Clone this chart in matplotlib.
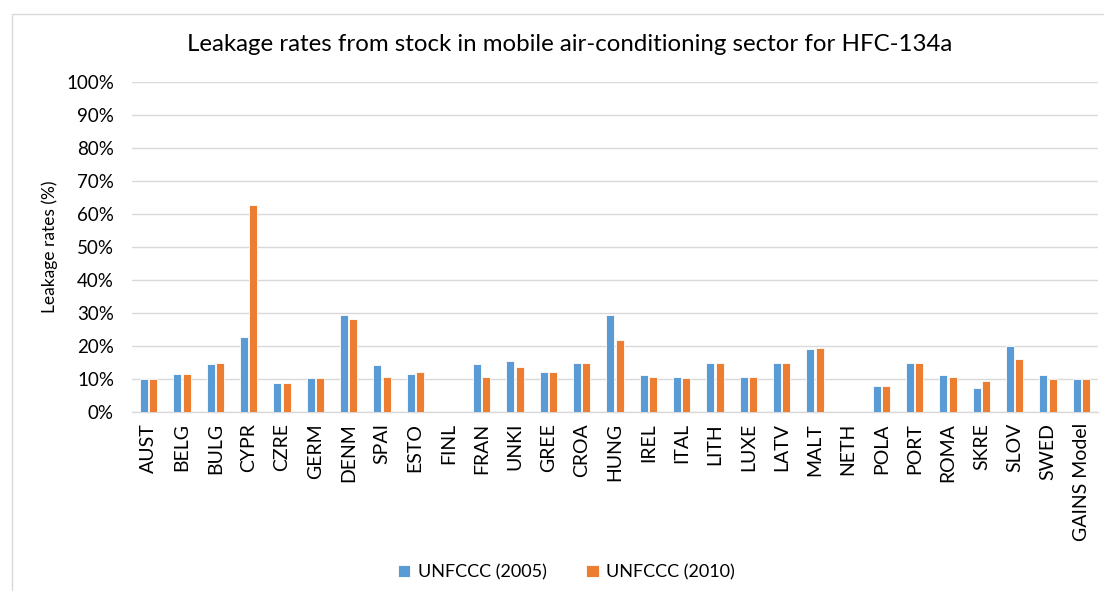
import matplotlib.pyplot as plt
import numpy as np
from matplotlib.ticker import MultipleLocator, PercentFormatter
from matplotlib.patches import Rectangle

plt.rcParams['font.family'] = ['Lato', 'DejaVu Sans']

countries = ['AUST', 'BELG', 'BULG', 'CYPR', 'CZRE', 'GERM', 'DENM', 'SPAI', 'ESTO', 'FINL',
             'FRAN', 'UNKI', 'GREE', 'CROA', 'HUNG', 'IREL', 'ITAL', 'LITH', 'LUXE', 'LATV',
             'MALT', 'NETH', 'POLA', 'PORT', 'ROMA', 'SKRE', 'SLOV', 'SWED', 'GAINS Model']
# np.nan = no value reported
unfccc_2005 = [10.0, 11.4, 14.5, 22.6, 8.7, 10.2, 29.3, 14.1, 11.5, np.nan,
               14.4, 15.4, 12.0, 14.8, 29.3, 11.2, 10.5, 14.8, 10.6, 14.8,
               19.2, np.nan, 8.0, 14.8, 11.1, 7.2, 19.9, 11.1, 10.0]
unfccc_2010 = [10.0, 11.4, 14.9, 62.6, 8.7, 10.2, 28.2, 10.5, 12.0, np.nan,
               10.5, 13.5, 12.0, 14.8, 21.7, 10.6, 10.2, 14.8, 10.6, 14.8,
               19.4, np.nan, 8.0, 14.8, 10.6, 9.5, 16.1, 10.0, 10.0]

blue = '#5B9BD5'
orange = '#ED7D31'
grid_col = '#D9D9D9'

fig = plt.figure(figsize=(11.04, 5.91), dpi=100)
ax = fig.add_axes([0.1196, 0.3029, 0.8750, 0.5584])

x = np.arange(len(countries))
w = 0.24
ax.bar(x - w / 2 - 0.02, unfccc_2005, w, color=blue, edgecolor='white', linewidth=0.6,
       label='UNFCCC (2005)', zorder=3)
ax.bar(x + w / 2 + 0.02, unfccc_2010, w, color=orange, edgecolor='white', linewidth=0.6,
       label='UNFCCC (2010)', zorder=3)

ax.set_xlim(-0.5, len(countries) - 0.5)
ax.set_ylim(0, 100)
ax.yaxis.set_major_locator(MultipleLocator(10))
ax.yaxis.set_major_formatter(PercentFormatter(decimals=0))
ax.grid(axis='y', color=grid_col, linewidth=1.0, zorder=0)
ax.set_xticks(x)
ax.set_xticklabels(countries, rotation=90)
ax.tick_params(axis='both', length=0, colors='#000000')
ax.tick_params(axis='y', labelsize=13.5, pad=13)
ax.tick_params(axis='x', labelsize=14, pad=8)
for s in ['top', 'right', 'left']:
    ax.spines[s].set_visible(False)
ax.spines['bottom'].set_color(grid_col)
ax.spines['bottom'].set_linewidth(1.0)

ax.set_ylabel('Leakage rates (%)', fontsize=12.5, labelpad=6)
fig.text(0.516, 0.925, 'Leakage rates from stock in mobile air-conditioning sector for HFC-134a',
         ha='center', va='center', fontsize=17.3)

fig.legend(loc='center', bbox_to_anchor=(0.513, 0.032), ncol=2, frameon=False,
           fontsize=13, handlelength=0.7, handleheight=0.7, columnspacing=2.2,
           handletextpad=0.4)

# light outer chart frame (cut off on right/bottom)
fig.patches.append(Rectangle((0.0105, -0.1), 1.2, 0.976 + 0.1, transform=fig.transFigure,
                             fill=False, edgecolor=grid_col, linewidth=1.0))

plt.savefig('out.png', dpi=100)
